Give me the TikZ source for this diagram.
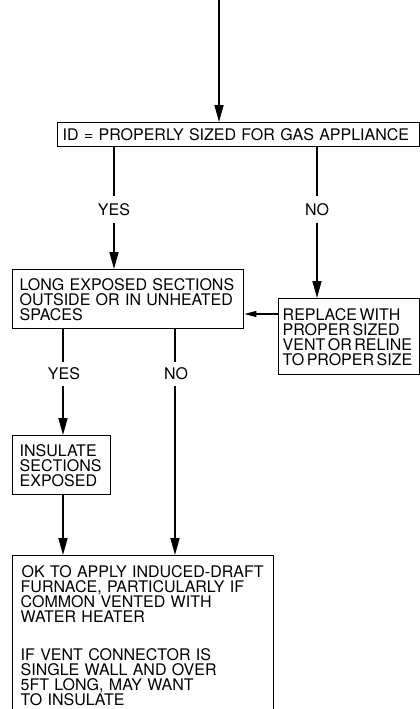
\documentclass[tikz,border=0pt]{standalone}
\usepackage{fontspec}
\setmainfont{TeX Gyre Heros}
\usetikzlibrary{arrows.meta}
\begin{document}
\begin{tikzpicture}[x=1pt,y=1pt,
  every node/.style={font=\fontsize{16}{15}\selectfont},
  box/.style={draw, line width=1.4pt, anchor=north west, align=left},
  lbl/.style={inner xsep=0pt, inner ysep=6pt},
  arr/.style={line width=1.5pt, -{Triangle[length=17pt,width=9pt]}},
  sarr/.style={line width=1.3pt, -{Triangle[length=12pt,width=6pt]}},
  ln/.style={line width=1.2pt}
]
\useasboundingbox (0,0) rectangle (420,-709);
\clip (0,0) rectangle (420,-709);

\node[box, text width=352, inner xsep=5, minimum height=24] (b1) at (57,-122)
  {ID = PROPERLY SIZED FOR GAS APPLIANCE};
\node[box, text width=217, inner xsep=7, minimum height=59] (b2) at (12,-269)
  {LONG EXPOSED SECTIONS\\OUTSIDE OR IN UNHEATED\\SPACES};
\node[box, text width=133, inner xsep=4, minimum height=76] (b3) at (278,-298)
  {\spaceskip=2.5pt REPLACE WITH\\PROPER SIZED\\VENT OR RELINE\\TO PROPER SIZE};
\node[box, text width=84, inner xsep=7, minimum height=59] (b4) at (12,-435)
  {INSULATE\\SECTIONS\\EXPOSED};
\node[box, text width=245, inner xsep=8, inner ysep=10] (b5) at (12,-555)
  {\hspace*{1pt}OK TO APPLY INDUCED-DRAFT\\FURNACE, PARTICULARLY IF\\COMMON VENTED WITH\\WATER HEATER\\[23pt]IF VENT CONNECTOR IS\\SINGLE WALL AND OVER\\5FT LONG, MAY WANT\\TO INSULATE};

\node[lbl, inner ysep=7] (y1) at (114,-209.5) {YES};
\node[lbl, inner ysep=7] (n1) at (317,-209.5) {NO};
\node[lbl] (y2) at (64,-374) {YES};
\node[lbl] (n2) at (176,-374) {NO};

\coordinate (top) at (219,2);
\draw[arr] (top) -- (top |- b1.north);

\draw[ln] (b1.south -| 114,0) -- (114,0 |- y1.north);
\draw[arr] (114,0 |- y1.south) -- (b2.north -| 114,0);
\draw[ln] (b1.south -| 317,0) -- (317,0 |- n1.north);
\draw[arr] (317,0 |- n1.south) -- (b3.north -| 317,0);

\coordinate (h) at (0,-314);
\draw[sarr] (b3.west |- h) -- (b2.east |- h);

\draw[ln] (b2.south -| 63,0) -- (63,0 |- y2.north);
\draw[arr] (63,0 |- y2.south) -- (b4.north -| 63,0);
\draw[ln] (b2.south -| 175,0) -- (175,0 |- n2.north);
\draw[arr] (175,0 |- n2.south) -- (b5.north -| 175,0);
\draw[arr] (b4.south -| 63,0) -- (b5.north -| 63,0);
\end{tikzpicture}
\end{document}
